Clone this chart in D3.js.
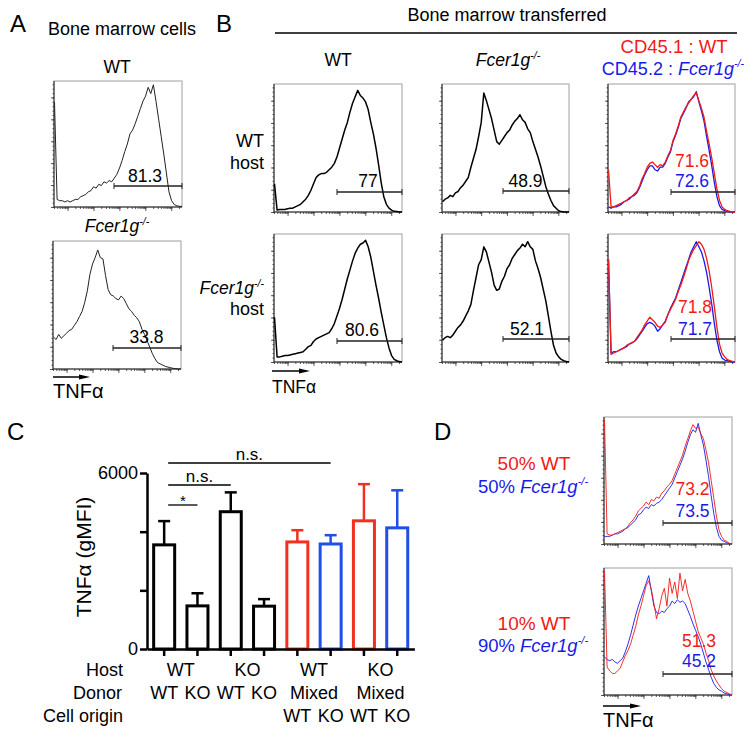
<!DOCTYPE html>
<html><head><meta charset="utf-8">
<script src="https://cdn.jsdelivr.net/npm/d3@7"></script>
<style>
body{margin:0;background:#fff}
svg{display:block}
text{font-family:"Liberation Sans",Arial,Helvetica,sans-serif}
</style>
</head><body>
<svg id="fig" width="754" height="738"></svg>
<script>
// ---------------- DATA ----------------
// Flow histograms: 50 equally spaced TNFα bins, height in % of plot height
const HIST_BINS = 50;
const histA_WT = [83,6,5,5,4,5,4,5,6,6,8,9,10,12,13,16,15,18,17,20,19,21,20,23,26,31,37,44,50,58,61,66,72,78,84,88,95,90,97,84,70,56,42,27,12,5,2,1,0.5,0.5];
const histA_KO = [25,23,27,24,26,28,30,31,34,37,41,45,52,61,74,82,87,93,87,86,73,62,58,57,55,54,57,55,51,47,45,42,40,37,31,27,22,17,12,8,5,4,3,2,1.5,1,0.5,0.3,0,0];
const histB_WThost_WT = [22,1.5,2,2,2,2.5,3,3,4,5,6,8,10,13,17,22,27,29,30,30,31,33,35,38,43,50,57,64,70,78,85,90,95,91,89,86,80,70,61,50,37,23,12,6,3,1.5,0.5,0.3,0,0];
const histB_WThost_KO = [8,10,11,13,12,15,16,19,21,24,27,35,42,49,59,70,93,87,80,73,64,55,53,56,59,62,64,68,71,73,76,72,70,65,62,55,49,43,36,28,20,14,9,5,3,1,0.3,0,0,0];
const histB_WThost_mixWT = [33,4,4,5,6,7,8,9,11,12,14,16,20,26,30,35,38,39,37,35,37,36,39,44,48,56,61,67,74,78,82,85,88,91,93,87,81,74,63,53,42,30,18,9,4,2,1,0.5,0,0];
const histB_WThost_mixKO = [4,3,4,4,5,6,8,9,10,12,13,15,19,24,29,33,36,36,33,32,35,35,38,43,47,55,60,66,73,77,81,86,88,90,94,86,79,71,59,48,36,23,12,5,2,1,0.5,0,0,0];
const histB_KOhost_WT = [35,4,4,4.5,5,5,5.5,6,6.5,7,7.5,8,10,12,13,16,18,19,20,21,22,23,26,30,36,42,49,57,65,72,79,85,89,92,93,95,90,82,71,60,50,39,29,19,11,5,2,1,0.3,0];
const histB_KOhost_KO = [17,19,20,19,21,24,27,29,32,36,40,45,56,66,76,80,90,86,78,70,60,56,57,63,67,73,76,81,84,87,89,92,90,94,90,88,79,73,66,57,48,36,24,13,7,4,2,1,0.3,0];
const histB_KOhost_mixWT = [80,6,7,8,9,10,11,13,14,15,16,19,22,25,29,32,35,33,31,28,27,29,31,37,41,45,49,55,60,66,72,79,84,88,91,94,92,88,81,71,58,43,27,14,7,4,2,1,0.5,0];
const histB_KOhost_mixKO = [80,7,8,8,9,10,11,12,14,15,16,18,21,24,27,30,31,30,28,24,26,29,32,37,42,46,50,56,62,68,74,80,86,90,94,90,86,79,70,58,45,30,17,8,3,1.5,1,0.5,0,0];
const histD_50_WT = [98,8,7,7,8,9,10,11,12,14,17,19,22,26,28,30,33,31,35,34,37,36,40,42,45,47,50,55,60,65,70,77,83,89,94,91,92,87,83,74,64,50,36,22,11,6,3,2,0.5,0];
const histD_50_KO = [6,6,6,7,8,8,9,10,12,13,15,17,19,23,24,27,29,28,31,30,32,33,35,38,41,44,47,52,57,62,67,73,80,86,90,88,95,86,78,66,53,38,24,13,6,3,2,1,0.3,0];
const histD_10_WT = [98,22,19,17,17,19,21,26,31,35,40,47,54,63,70,78,86,90,83,72,60,68,78,84,70,92,80,89,76,96,82,91,80,74,66,58,50,45,40,33,27,20,15,11,8,5,3,2,1,0];
const histD_10_KO = [30,28,27,28,26,25,27,29,34,40,47,55,63,70,76,82,88,94,82,70,65,64,66,65,68,70,74,72,75,73,74,72,67,62,56,51,46,40,33,26,20,14,9,6,4,3,1.5,1,0.3,0];

// Gate percentages
const gateA = [81.3, 33.8];              // WT, Fcer1g-/- bone marrow
const gateB_WTdonor = [77, 80.6];        // WT host, Fcer1g-/- host
const gateB_KOdonor = [48.9, 52.1];
const gateB_mixWT = [71.6, 71.8];
const gateB_mixKO = [72.6, 71.7];
const gateD_WT = [73.2, 51.3];           // 50% / 10% WT
const gateD_KO = [73.5, 45.2];

// Panel C bar chart
const barIds = ["WT-WT","WT-KO","KO-WT","KO-KO","WT-mixWT","WT-mixKO","KO-mixWT","KO-mixKO"];
const barMeans = [3550, 1470, 4680, 1460, 3650, 3580, 4370, 4130];
const barSEM   = [810, 430, 660, 240, 400, 300, 1250, 1280];
const barOrigin = ["single","single","single","single","WT","KO","WT","KO"];
const hostLabels = ["WT","KO","WT","KO"];
const donorLabels = ["WT","KO","WT","KO","Mixed","Mixed"];
const cellOriginLabels = ["WT","KO","WT","KO"];
const yTickValues = [0, 2000, 4000, 6000];
const sigTests = [{a:0,b:1,label:"*"},{a:0,b:2,label:"n.s."},{a:0,b:5,label:"n.s."}];

// ---------------- STYLE / LAYOUT ----------------
const RED = "#f21a17", BLUE = "#1a1ae8";
const BAR_RED = "#f2301f", BAR_BLUE = "#1f4fe6";
const svg = d3.select("#fig");

function txt(x, y, s, o = {}) {
  const t = svg.append("text").attr("x", x).attr("y", y)
    .attr("font-size", o.size || 17).attr("fill", o.fill || "#000")
    .attr("text-anchor", o.anchor || "start");
  if (o.italic) t.attr("font-style", "italic");
  if (s !== null) t.text(s);
  return t;
}
function fcer(t, size, prefix) {
  if (prefix) t.append("tspan").text(prefix);
  t.append("tspan").attr("font-style", "italic").text("Fcer1g");
  t.append("tspan").attr("font-style", "italic").attr("font-size", size * 0.6)
    .attr("dy", -size * 0.42).text("-/-");
  return t;
}
function arrow(x0, x1, y) {
  svg.append("line").attr("x1", x0).attr("x2", x1 - 6).attr("y1", y).attr("y2", y)
    .attr("stroke", "#000").attr("stroke-width", 1.5);
  svg.append("path").attr("d", `M${x1 - 11},${y - 2.5}L${x1},${y}L${x1 - 11},${y + 2.5}Z`).attr("fill", "#000");
}

function drawHist(box, series, labels, lw) {
  const g = svg.append("g");
  const x = d3.scaleLinear().domain([0, HIST_BINS - 1]).range([box.x + 0.5, box.x + box.w]);
  const y = d3.scaleLinear().domain([0, 100]).range([box.y + box.h, box.y]);
  g.append("rect").attr("x", box.x).attr("y", box.y).attr("width", box.w).attr("height", box.h)
    .attr("fill", "none").attr("stroke", "#a0a0a0").attr("stroke-width", 1);
  const yt = d3.scaleLinear().domain([0, 115]).range([box.y + box.h, box.y]);
  const la = g.append("g").attr("transform", `translate(${box.x},0)`)
    .call(d3.axisLeft(yt).tickValues(d3.range(0, 116, 20)).tickSize(3).tickFormat(""));
  const la2 = g.append("g").attr("transform", `translate(${box.x},0)`)
    .call(d3.axisLeft(yt).tickValues(d3.range(0, 116, 4)).tickSize(1.5).tickFormat(""));
  const xt = d3.scaleLog().domain([3, 2.6e5]).range([box.x, box.x + box.w]);
  const minor = [];
  [1, 10, 100, 1000, 10000, 100000].forEach(d => { for (let k = 1; k < 10; k++) if (d * k >= 3 && d * k <= 2.6e5) minor.push(d * k); });
  const ba = g.append("g").attr("transform", `translate(0,${box.y + box.h})`)
    .call(d3.axisBottom(xt).tickValues(minor).tickSize(2).tickFormat(""));
  const ba2 = g.append("g").attr("transform", `translate(0,${box.y + box.h})`)
    .call(d3.axisBottom(xt).tickValues([10, 100, 1000, 10000, 100000]).tickSize(4).tickFormat(""));
  [la, la2, ba, ba2].forEach(a => { a.select(".domain").remove(); a.selectAll("line").attr("stroke", "#333").attr("stroke-width", 0.8); });
  g.append("line").attr("x1", box.x).attr("x2", box.x).attr("y1", box.y).attr("y2", box.y + box.h).attr("stroke", "#222");
  g.append("line").attr("x1", box.x).attr("x2", box.x + box.w).attr("y1", box.y + box.h).attr("y2", box.y + box.h).attr("stroke", "#222");
  const line = d3.line().x((d, i) => x(i)).y(d => y(d));
  series.forEach(s => {
    g.append("path").attr("d", line(s.values)).attr("fill", "none")
      .attr("stroke", s.color).attr("stroke-width", lw).attr("stroke-linejoin", "round");
  });
  g.append("line").attr("x1", box.gx).attr("x2", box.x + box.w).attr("y1", box.gy).attr("y2", box.gy)
    .attr("stroke", "#222").attr("stroke-width", 1.4);
  [box.gx, box.x + box.w].forEach(gx => g.append("line").attr("x1", gx).attr("x2", gx)
    .attr("y1", box.gy - 3).attr("y2", box.gy + 3).attr("stroke", "#222").attr("stroke-width", 1));
  labels.forEach(l => txt(l.x, l.y, String(l.v), { anchor: "middle", size: 17.5, fill: l.color }));
}

// ---------------- PANEL A ----------------
txt(10, 32, "A", { size: 24 });
txt(48, 35, "Bone marrow cells", { size: 18 });
txt(117, 73, "WT", { anchor: "middle", size: 17.5 });
fcer(txt(117, 232, null, { anchor: "middle", size: 17.5 }), 17.5);
drawHist({ x: 54, y: 81, w: 128, h: 126, gx: 114, gy: 186 },
  [{ values: histA_WT, color: "#222" }], [{ x: 145, y: 182, v: gateA[0], color: "#000" }], 1);
drawHist({ x: 53, y: 241, w: 128, h: 128, gx: 113, gy: 348 },
  [{ values: histA_KO, color: "#222" }], [{ x: 146.5, y: 343, v: gateA[1], color: "#000" }], 1);
arrow(53, 90, 377);
txt(53, 398, "TNF\u03B1", { size: 20 });

// ---------------- PANEL B ----------------
txt(216, 32, "B", { size: 24 });
txt(507, 21, "Bone marrow transferred", { anchor: "middle", size: 18 });
svg.append("line").attr("x1", 275).attr("x2", 737).attr("y1", 33).attr("y2", 33).attr("stroke", "#000").attr("stroke-width", 1.5);
txt(338, 66, "WT", { anchor: "middle", size: 17.5 });
fcer(txt(508, 66, null, { anchor: "middle", size: 17.5 }), 17.5);
txt(674, 53, "CD45.1 : WT", { anchor: "middle", size: 18.5, fill: RED });
fcer(txt(673, 75, null, { anchor: "middle", size: 18, fill: BLUE }), 18, "CD45.2 : ");
txt(264, 147, "WT", { anchor: "end", size: 18 });
txt(264, 169, "host", { anchor: "end", size: 18 });
fcer(txt(264, 294, null, { anchor: "end", size: 17.5 }), 17.5);
txt(264, 315, "host", { anchor: "end", size: 18 });

drawHist({ x: 274, y: 84, w: 128, h: 128, gx: 337, gy: 192 },
  [{ values: histB_WThost_WT, color: "#000" }], [{ x: 368, y: 187, v: gateB_WTdonor[0], color: "#000" }], 1.5);
drawHist({ x: 442, y: 84, w: 127, h: 128, gx: 503, gy: 191 },
  [{ values: histB_WThost_KO, color: "#000" }], [{ x: 525.5, y: 187, v: gateB_KOdonor[0], color: "#000" }], 1.5);
drawHist({ x: 608, y: 84, w: 127, h: 128, gx: 671, gy: 192 },
  [{ values: histB_WThost_mixKO, color: BLUE }, { values: histB_WThost_mixWT, color: RED }],
  [{ x: 692, y: 167, v: gateB_mixWT[0], color: RED }, { x: 692, y: 187, v: gateB_mixKO[0], color: BLUE }], 1.3);
drawHist({ x: 274, y: 234, w: 128, h: 128, gx: 337, gy: 341 },
  [{ values: histB_KOhost_WT, color: "#000" }], [{ x: 362, y: 336, v: gateB_WTdonor[1], color: "#000" }], 1.5);
drawHist({ x: 442, y: 234, w: 127, h: 128, gx: 503, gy: 339 },
  [{ values: histB_KOhost_KO, color: "#000" }], [{ x: 527, y: 335, v: gateB_KOdonor[1], color: "#000" }], 1.5);
drawHist({ x: 608, y: 234, w: 127, h: 128, gx: 671, gy: 339 },
  [{ values: histB_KOhost_mixKO, color: BLUE }, { values: histB_KOhost_mixWT, color: RED }],
  [{ x: 695, y: 313, v: gateB_mixWT[1], color: RED }, { x: 695, y: 335, v: gateB_mixKO[1], color: BLUE }], 1.3);
arrow(272, 310, 371);
txt(272, 393, "TNF\u03B1", { size: 17.5 });

// ---------------- PANEL C ----------------
txt(7, 440, "C", { size: 24 });
const xC = d3.scaleBand().domain(d3.range(barIds.length)).range([147, 414.4]).paddingInner(0.369).paddingOuter(0.2);
const yC = d3.scaleLinear().domain([0, 6000]).range([649, 473]);
const bw = xC.bandwidth();
const cx = i => xC(i) + bw / 2;
const colorOf = o => o === "WT" ? BAR_RED : o === "KO" ? BAR_BLUE : "#000";

const gC = svg.append("g");
barIds.forEach((id, i) => {
  const c = colorOf(barOrigin[i]);
  const top = yC(barMeans[i] + barSEM[i]);
  gC.append("line").attr("x1", cx(i)).attr("x2", cx(i)).attr("y1", yC(barMeans[i])).attr("y2", top)
    .attr("stroke", c).attr("stroke-width", 2.5);
  gC.append("line").attr("x1", cx(i) - 6).attr("x2", cx(i) + 6).attr("y1", top).attr("y2", top)
    .attr("stroke", c).attr("stroke-width", 2.5);
  gC.append("rect").attr("x", xC(i)).attr("y", yC(barMeans[i])).attr("width", bw)
    .attr("height", yC(0) - yC(barMeans[i])).attr("fill", "#fff").attr("stroke", c).attr("stroke-width", 3);
});
const yAx = gC.append("g").attr("transform", "translate(147,0)")
  .call(d3.axisLeft(yC).tickValues(yTickValues).tickSize(7).tickSizeOuter(0).tickPadding(2)
    .tickFormat(d => (d === 0 || d === 6000) ? d : ""));
yAx.selectAll("text").attr("font-size", 18).attr("font-family", '"Liberation Sans",Arial,sans-serif').attr("fill", "#000");
yAx.selectAll("line,path").attr("stroke", "#000").attr("stroke-width", 2.5);
const xAx = gC.append("g").attr("transform", "translate(0,649)")
  .call(d3.axisBottom(xC).tickSize(7).tickSizeOuter(0).tickFormat(""));
xAx.selectAll("line,path").attr("stroke", "#000").attr("stroke-width", 2.5);
xAx.selectAll(".tick").attr("transform", (d) => `translate(${cx(d)},0)`);

svg.append("text").attr("transform", "translate(91,557) rotate(-90)").attr("text-anchor", "middle")
  .attr("font-size", 21).text("TNF\u03B1 (gMFI)");

const sigY = [505, 485, 463];
sigTests.forEach((s, k) => {
  const x1 = cx(s.a) + 4, x2 = cx(s.b);
  svg.append("line").attr("x1", x1).attr("x2", x2).attr("y1", sigY[k]).attr("y2", sigY[k])
    .attr("stroke", "#000").attr("stroke-width", 1.3);
  txt((x1 + x2) / 2, sigY[k] - (s.label === "*" ? -1 : 3), s.label, { anchor: "middle", size: s.label === "*" ? 15 : 17 });
});

txt(123, 676, "Host", { anchor: "end", size: 18 });
txt(122, 699, "Donor", { anchor: "end", size: 18 });
txt(123, 722, "Cell origin", { anchor: "end", size: 18 });
hostLabels.forEach((l, k) => txt((cx(2 * k) + cx(2 * k + 1)) / 2, 676, l, { anchor: "middle", size: 18 }));
donorLabels.forEach((l, k) => {
  const xPos = k < 4 ? cx(k) : (cx(4 + (k - 4) * 2) + cx(5 + (k - 4) * 2)) / 2;
  txt(xPos, 699, l, { anchor: "middle", size: 18 });
});
cellOriginLabels.forEach((l, k) => txt(cx(4 + k), 722, l, { anchor: "middle", size: 18 }));

// ---------------- PANEL D ----------------
txt(434, 440, "D", { size: 24 });
txt(534, 470, "50% WT", { anchor: "middle", size: 19, fill: RED });
fcer(txt(533, 493, null, { anchor: "middle", size: 18.5, fill: BLUE }), 18.5, "50% ");
txt(534, 630, "10% WT", { anchor: "middle", size: 19, fill: RED });
fcer(txt(533, 652, null, { anchor: "middle", size: 18.5, fill: BLUE }), 18.5, "90% ");
drawHist({ x: 604, y: 417, w: 128, h: 127, gx: 663, gy: 523 },
  [{ values: histD_50_KO, color: BLUE }, { values: histD_50_WT, color: RED }],
  [{ x: 692.5, y: 495, v: gateD_WT[0], color: RED }, { x: 692.5, y: 517, v: gateD_KO[0], color: BLUE }], 0.9);
drawHist({ x: 604, y: 568, w: 128, h: 127, gx: 663, gy: 674 },
  [{ values: histD_10_KO, color: BLUE }, { values: histD_10_WT, color: RED }],
  [{ x: 699, y: 647, v: gateD_WT[1], color: RED }, { x: 699, y: 667, v: gateD_KO[1], color: BLUE }], 0.9);
arrow(603, 641, 706);
txt(603, 727, "TNF\u03B1", { size: 20 });
</script>
</body></html>
